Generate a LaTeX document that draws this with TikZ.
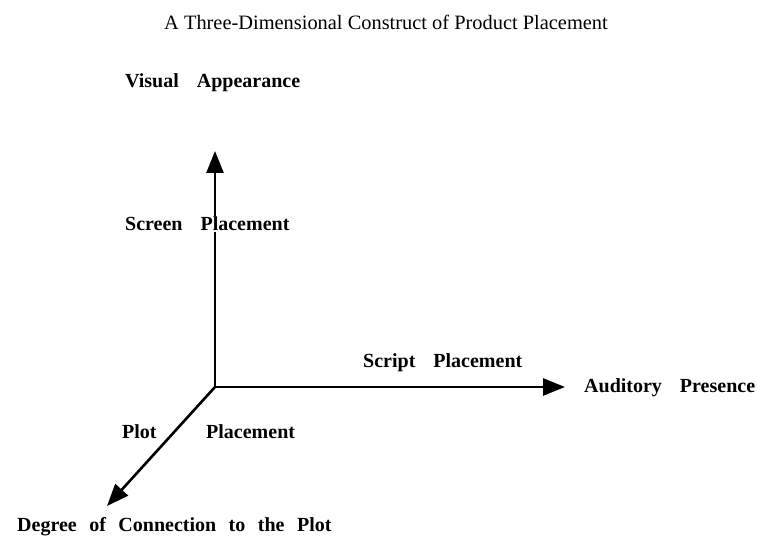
\documentclass[tikz,border=0pt]{standalone}
\usepackage{fontspec}
\setmainfont{Liberation Serif}
\usetikzlibrary{arrows.meta}
\newcommand\wsp{\hspace{18pt}}
\newcommand\nsp{\hspace{12.5pt}}
\begin{document}
\begin{tikzpicture}[x=1pt,y=-1pt,
  axis/.style={line width=2.6pt,-{Triangle[length=22pt,width=17pt]}},
  lbl/.style={anchor=west,inner sep=0pt,font=\fontsize{20}{22}\selectfont\bfseries},
  ttl/.style={inner sep=0pt,font=\fontsize{20.4}{22}\selectfont}]
\useasboundingbox (0,0) rectangle (757,540);
\coordinate (O) at (215,387);
\coordinate (V) at (215,151);
\coordinate (H) at (565,387);
\coordinate (D) at (107,506);
\draw[axis] (O) -- (V);
\draw[axis] (O) -- (H);
\draw[axis] (O) -- (D);
\node[ttl] (title) at (386,22) {A Three-Dimensional Construct of Product Placement};
\node[lbl] (va) at (125,83) {Visual\wsp Appearance};
\node[lbl,fill=white,inner sep=1pt] (sp) at (124,224) {Screen\wsp Placement};
\node[lbl] (scp) at (363,363) {Script\wsp Placement};
\node[lbl] (ap) at (584,388) {Auditory\wsp Presence};
\node[lbl] (plot) at (122,432) {Plot};
\node[lbl] (pp) at (206,432) {Placement};
\node[lbl] (deg) at (17,527) {Degree\nsp of\nsp Connection\nsp to\nsp the\nsp Plot};
\end{tikzpicture}
\end{document}
